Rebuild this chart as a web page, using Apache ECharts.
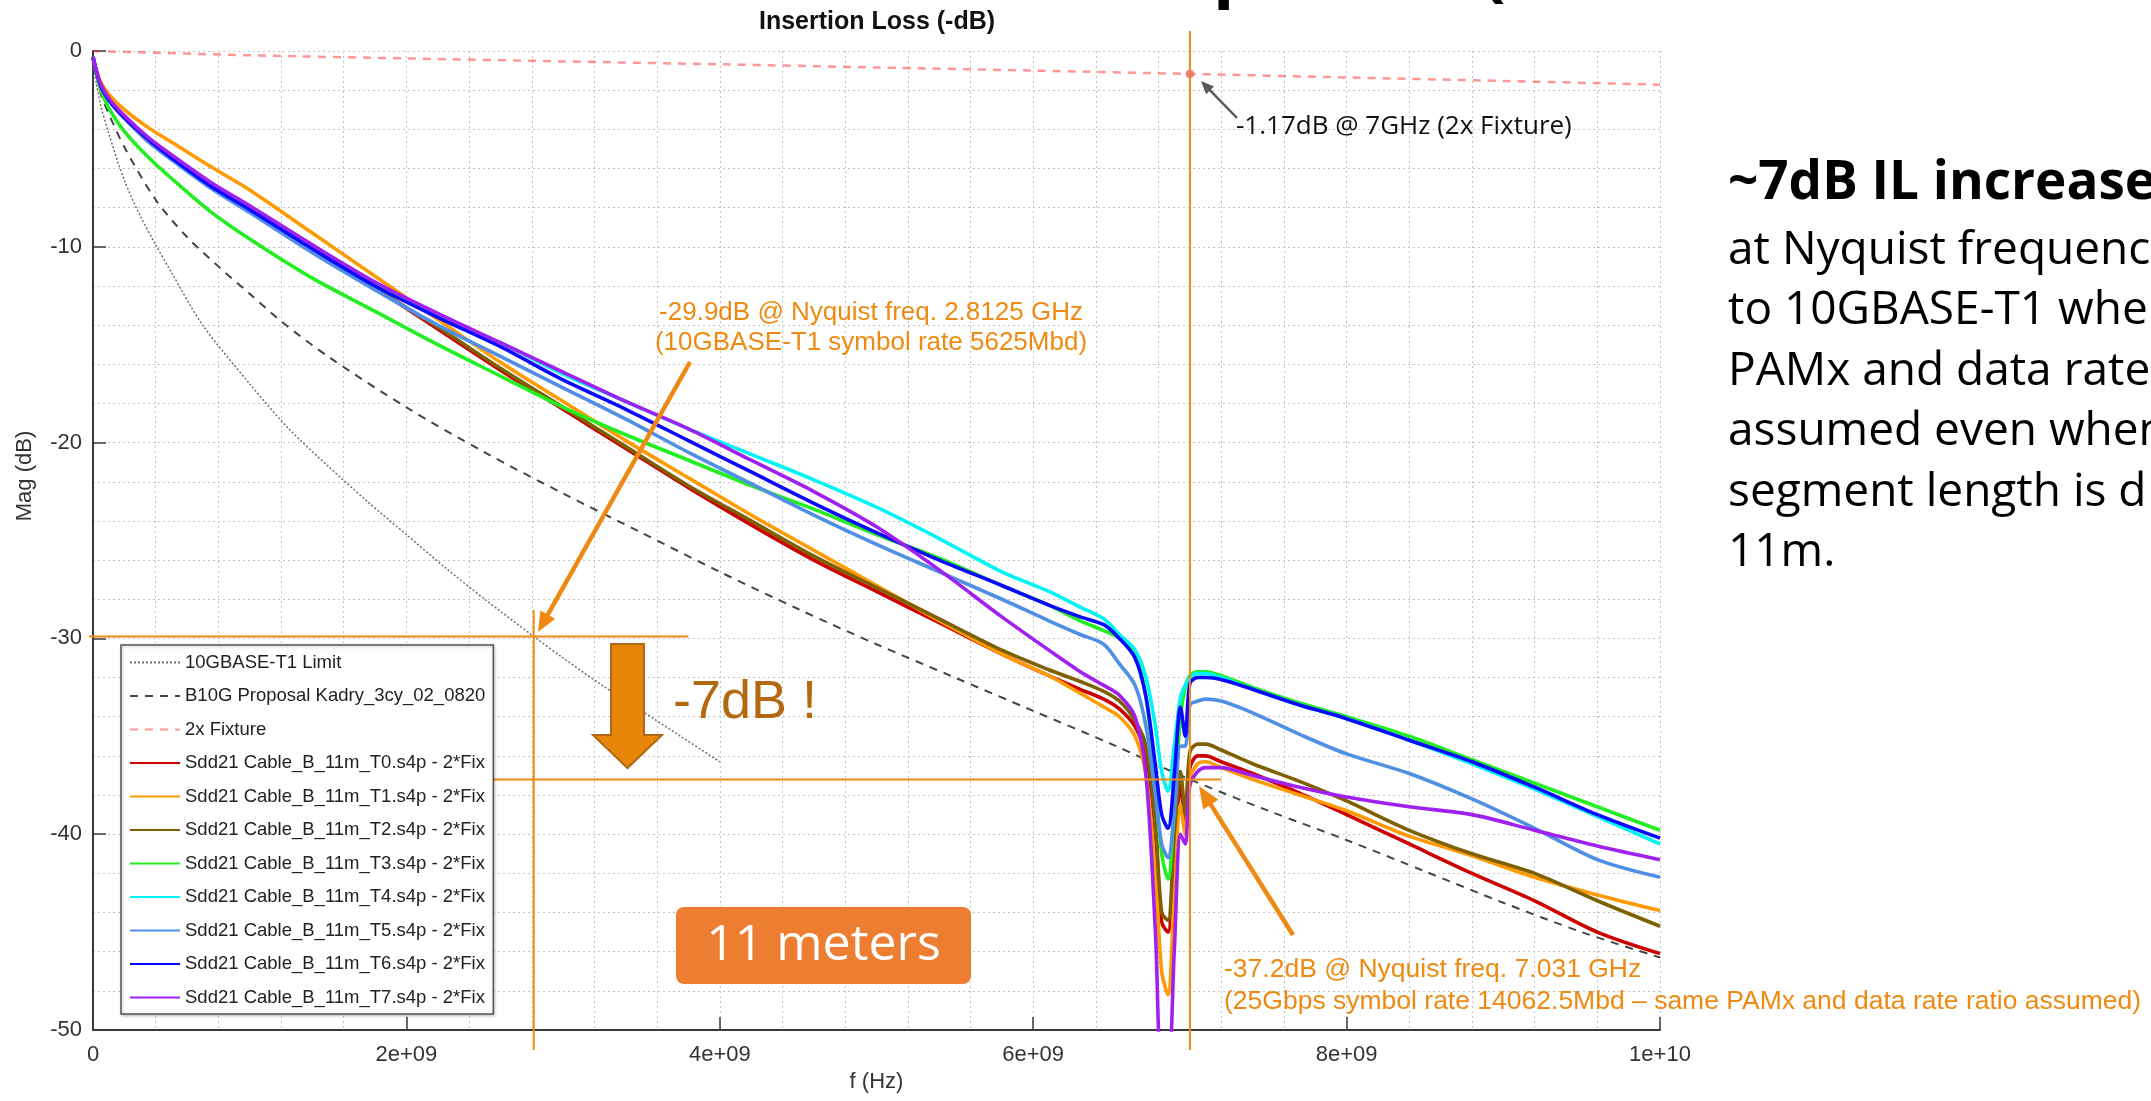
<!DOCTYPE html>
<html>
<head>
<meta charset="utf-8">
<script src="https://cdn.jsdelivr.net/npm/echarts@6/dist/echarts.min.js"></script>
<style>
html,body{margin:0;padding:0;background:#fff;overflow:hidden}
#c{width:2151px;height:1101px}
</style>
</head>
<body>
<div id="c"></div>
<script>
// ---------------- DATA ----------------
const xTicks = [0, 2e9, 4e9, 6e9, 8e9, 1e10];
const xTickLabels = ['0', '2e+09', '4e+09', '6e+09', '8e+09', '1e+10'];
const yTicks = [0, -10, -20, -30, -40, -50];
const yTickLabels = ['0', '-10', '-20', '-30', '-40', '-50'];

const seriesNames = [
  '10GBASE-T1 Limit',
  'B10G Proposal Kadry_3cy_02_0820',
  '2x Fixture',
  'Sdd21 Cable_B_11m_T0.s4p - 2*Fix',
  'Sdd21 Cable_B_11m_T1.s4p - 2*Fix',
  'Sdd21 Cable_B_11m_T2.s4p - 2*Fix',
  'Sdd21 Cable_B_11m_T3.s4p - 2*Fix',
  'Sdd21 Cable_B_11m_T4.s4p - 2*Fix',
  'Sdd21 Cable_B_11m_T5.s4p - 2*Fix',
  'Sdd21 Cable_B_11m_T6.s4p - 2*Fix',
  'Sdd21 Cable_B_11m_T7.s4p - 2*Fix'
];

// 10GBASE-T1 limit (GHz, dB)
const limitGHz = [0, 0.02, 0.05, 0.1, 0.2, 0.3, 0.4, 0.5, 0.7, 1.0, 1.25, 1.5, 1.75, 2.0, 2.25, 2.5, 2.8125, 3.0, 3.25, 3.5, 3.75, 4.0];
const limitDb  = [-0.5, -1.6, -2.8, -4.2, -6.6, -8.4, -9.9, -11.3, -14.0, -17.0, -19.3, -21.2, -23.0, -24.7, -26.4, -28.0, -29.9, -31.0, -32.4, -33.7, -35.0, -36.3];

// B10G proposal
const b10gGHz = [0, 0.05, 0.1, 0.2, 0.4, 0.6, 0.8, 1.0, 1.2, 1.5, 2.0, 2.5, 3.0, 3.5, 4.0, 4.5, 5.0, 5.5, 6.0, 6.5, 7.0, 7.5, 8.0, 8.5, 9.0, 9.5, 10.0];
const b10gDb  = [-0.5, -2.2, -3.2, -4.9, -7.6, -9.5, -11.0, -12.4, -13.8, -15.6, -18.2, -20.5, -22.6, -24.6, -26.6, -28.5, -30.3, -32.0, -33.7, -35.4, -37.2, -38.8, -40.3, -41.9, -43.5, -45.0, -46.3];

// 2x fixture
const fixGHz = [0, 1, 2, 3, 4, 5, 6, 7, 8, 9, 10];
const fixDb  = [0, -0.22, -0.38, -0.53, -0.68, -0.84, -1.0, -1.17, -1.35, -1.53, -1.72];

// cable measurements: common frequency grid (GHz)
const cableGHz = [0, 0.02, 0.05, 0.1, 0.2, 0.35, 0.5, 0.75, 1.0, 1.4, 1.8, 2.2, 2.6, 3.0, 3.4, 3.8, 4.2, 4.6, 5.0, 5.4,
  5.8, 6.1, 6.3, 6.45, 6.55, 6.65, 6.72, 6.78, 6.82, 6.86, 6.9, 6.94, 6.97, 7.0, 7.05, 7.1, 7.2, 7.4, 7.7, 8.0,
  8.4, 8.8, 9.2, 9.6, 10.0];
const T0 = [-0.3, -1.0, -1.8, -2.5, -3.4, -4.5, -5.5, -6.9, -8.1, -10.1,
  -12.1, -14.2, -16.3, -18.3, -20.3, -22.3, -24.2, -26.0, -27.6, -29.2,
  -30.8, -31.9, -32.6, -33.1, -33.6, -34.5, -36.0, -40.0, -44.5, -45.0,
  -41.0, -37.5, -39.5, -36.6, -36.0, -36.0, -36.3, -36.9, -37.9, -39.0,
  -40.5, -42.0, -43.4, -45.0, -46.1];
const T1 = [-0.3, -0.9, -1.6, -2.2, -3.0, -3.9, -4.65, -5.9, -7.1, -9.3,
  -11.5, -13.7, -15.9, -17.9, -19.9, -21.8, -23.7, -25.5, -27.3, -29.1,
  -30.8, -31.9, -32.8, -33.5, -34.0, -35.0, -37.0, -42.0, -47.0, -48.2,
  -43.0, -38.5, -40.0, -37.2, -36.4, -36.3, -36.6, -37.2, -38.0, -38.8,
  -40.1, -41.1, -42.2, -43.1, -43.9];
const T2 = [-0.3, -1.0, -1.8, -2.5, -3.4, -4.6, -5.5, -6.9, -8.1, -10.1,
  -12.1, -14.1, -16.2, -18.2, -20.2, -22.2, -24.0, -25.8, -27.4, -29.0,
  -30.6, -31.6, -32.2, -32.7, -33.2, -34.2, -35.5, -39.5, -44.0, -44.4,
  -40.0, -36.8, -39.0, -35.8, -35.4, -35.4, -35.7, -36.4, -37.3, -38.3,
  -39.8, -41.0, -42.0, -43.4, -44.7];
const T3 = [-0.3, -1.1, -2.0, -2.9, -4.1, -5.4, -6.5, -8.2, -9.6, -11.6,
  -13.3, -15.0, -16.6, -18.2, -19.6, -20.9, -22.2, -23.4, -24.7, -25.9,
  -27.3, -28.3, -29.1, -29.6, -30.0, -30.8, -33.0, -37.5, -41.0, -42.3,
  -38.5, -34.0, -32.5, -31.9, -31.7, -31.7, -31.9, -32.5, -33.3, -34.0,
  -35.0, -36.2, -37.4, -38.6, -39.8];
const T4 = [-0.3, -1.0, -1.8, -2.5, -3.4, -4.5, -5.4, -6.85, -8.05, -10.0,
  -11.9, -13.5, -14.9, -16.5, -17.9, -19.3, -20.6, -21.9, -23.3, -24.9,
  -26.6, -27.6, -28.4, -29.0, -29.8, -30.6, -32.0, -34.5, -36.8, -37.8,
  -35.5, -33.0, -32.4, -32.0, -31.8, -31.8, -32.0, -32.6, -33.4, -34.1,
  -35.2, -36.4, -37.7, -39.1, -40.5];
const T5 = [-0.3, -1.0, -1.8, -2.5, -3.45, -4.6, -5.55, -7.0, -8.25, -10.3,
  -12.2, -14.0, -15.6, -17.2, -18.8, -20.5, -22.1, -23.7, -25.2, -26.6,
  -28.0, -29.1, -29.8, -30.3, -31.3, -32.4, -34.5, -38.0, -40.5, -41.2,
  -39.0, -35.5, -35.5, -33.4, -33.2, -33.1, -33.2, -33.8, -34.9, -35.9,
  -36.9, -38.2, -39.7, -41.3, -42.2];
const T6 = [-0.3, -1.0, -1.8, -2.5, -3.4, -4.5, -5.45, -6.9, -8.1, -10.1,
  -12.0, -13.6, -15.1, -16.8, -18.3, -19.9, -21.5, -23.1, -24.6, -26.0,
  -27.3, -28.3, -28.9, -29.3, -30.0, -31.0, -33.0, -36.5, -39.0, -39.7,
  -37.0, -33.5, -35.0, -32.3, -32.0, -32.0, -32.1, -32.6, -33.4, -34.1,
  -35.2, -36.3, -37.6, -39.0, -40.2];
const T7 = [-0.3, -1.0, -1.7, -2.4, -3.3, -4.4, -5.3, -6.7, -7.9, -9.9,
  -11.8, -13.4, -14.9, -16.4, -17.9, -19.3, -20.9, -22.5, -24.3, -26.5,
  -28.9, -30.6, -31.7, -32.4, -32.9, -34.0, -37.0, -45.0, -52.0, -52.0,
  -46.0, -40.0, -40.5, -37.5, -36.8, -36.6, -36.6, -37.0, -37.6, -38.1,
  -38.6, -39.0, -39.8, -40.6, -41.3];

// annotation values
const nyq1GHz = 2.8125, nyq1Db = -29.9;
const nyq2GHz = 7.0, nyq2Db = -37.2;
const fixMarkGHz = 7.0, fixMarkDb = -1.17;

// ---------------- CHART ----------------
const cableSets = [T0, T1, T2, T3, T4, T5, T6, T7];
const cableColors = ['#cc0000', '#ff9a00', '#7f6000', '#22ee22', '#00f4f4', '#4f8fe6', '#0a0aff', '#a020f0'];
const toPairs = (fs, ds) => fs.map((f, i) => [f * 1e9, ds[i]]);
const FONT = '"Liberation Sans", Arial, sans-serif';
const ORANGE = '#EE8A12';

const series = [
  {name: seriesNames[0], type: 'line', data: toPairs(limitGHz, limitDb), symbol: 'none', showSymbol: false, smooth: 0.3,
   lineStyle: {color: '#6e6e6e', width: 1.5, type: [2, 2]}, itemStyle: {color: '#6e6e6e'}, z: 3},
  {name: seriesNames[1], type: 'line', data: toPairs(b10gGHz, b10gDb), symbol: 'none', showSymbol: false, smooth: 0.3,
   lineStyle: {color: '#444', width: 2, type: [8, 7]}, itemStyle: {color: '#444'}, z: 3},
  {name: seriesNames[2], type: 'line', data: toPairs(fixGHz, fixDb), symbol: 'none', showSymbol: false, smooth: 0.3,
   lineStyle: {color: '#ff3030', width: 2.5, type: [8, 7], opacity: 0.5}, itemStyle: {color: '#ff3030'}, z: 3}
];
cableSets.forEach((arr, i) => {
  series.push({
    name: seriesNames[3 + i], type: 'line', data: toPairs(cableGHz, arr), symbol: 'none', showSymbol: false, smooth: 0.3,
    lineStyle: {color: cableColors[i], width: 3.6}, itemStyle: {color: cableColors[i]}, z: 4
  });
});
series.push({
  name: 'fixtureMarker', type: 'scatter', data: [[fixMarkGHz * 1e9, fixMarkDb]],
  symbolSize: 9, itemStyle: {color: '#e8707a'}, z: 6
});

const gridLine = {show: true, lineStyle: {color: '#c4c4c4', width: 1, type: [2, 3]}};

const option = {
  animation: false,
  backgroundColor: '#ffffff',
  grid: {left: 93, top: 51, width: 1567, height: 979, containLabel: false, outerBoundsMode: 'none'},
  xAxis: {
    type: 'value', min: 0, max: 1e10, interval: 2e9,
    name: 'f (Hz)', nameLocation: 'middle', nameGap: 40,
    nameTextStyle: {fontSize: 22, color: '#333', fontFamily: FONT},
    axisLine: {show: true, onZero: false, lineStyle: {color: '#3a3a3a', width: 2}},
    axisTick: {show: true, inside: true, length: 13, lineStyle: {color: '#3a3a3a', width: 1.5}},
    axisLabel: {fontSize: 22, color: '#333', fontFamily: FONT, margin: 14,
      formatter: v => { const k = xTicks.indexOf(v); return k >= 0 ? xTickLabels[k] : ''; }},
    splitLine: gridLine,
    minorTick: {show: false, splitNumber: 5},
    minorSplitLine: gridLine
  },
  yAxis: {
    type: 'value', min: -50, max: 0, interval: 10,
    axisLine: {show: true, onZero: false, lineStyle: {color: '#3a3a3a', width: 2}},
    axisTick: {show: true, inside: true, length: 13, lineStyle: {color: '#3a3a3a', width: 1.5}},
    axisLabel: {fontSize: 22, color: '#333', fontFamily: FONT, margin: 11,
      formatter: v => { const k = yTicks.indexOf(v); return k >= 0 ? yTickLabels[k] : ''; }},
    splitLine: gridLine,
    minorTick: {show: false, splitNumber: 5},
    minorSplitLine: gridLine
  },
  legend: {
    show: true, orient: 'vertical', left: 121, top: 645,
    padding: [8, 8, 7, 8], itemWidth: 50, itemHeight: 14, itemGap: 14.5,
    backgroundColor: '#ffffff', borderColor: '#555', borderWidth: 1.5,
    shadowColor: 'rgba(0,0,0,0.25)', shadowBlur: 3, shadowOffsetX: 1, shadowOffsetY: 1,
    itemStyle: {opacity: 0, color: 'transparent', borderColor: 'transparent', borderWidth: 0},
    textStyle: {fontSize: 18.5, color: '#222', fontFamily: FONT, lineHeight: 18},
    data: seriesNames, selectedMode: false, z: 60
  },
  series: series
};

const chart = echarts.init(document.getElementById('c'), null, {renderer: 'canvas', width: 2151, height: 1101});
chart.setOption(option);

const P = (ghz, db) => chart.convertToPixel({gridIndex: 0}, [ghz * 1e9, db]);

function arrow(x1, y1, x2, y2, color, w, hl, hw) {
  const dx = x2 - x1, dy = y2 - y1, L = Math.hypot(dx, dy), ux = dx / L, uy = dy / L;
  const bx = x2 - ux * hl, by = y2 - uy * hl, nx = -uy, ny = ux;
  return [
    {type: 'line', z: 50, shape: {x1: x1, y1: y1, x2: bx + ux * 2, y2: by + uy * 2}, style: {stroke: color, lineWidth: w}},
    {type: 'polygon', z: 50, shape: {points: [[x2, y2], [bx + nx * hw / 2, by + ny * hw / 2], [bx - nx * hw / 2, by - ny * hw / 2]]}, style: {fill: color}}
  ];
}
function txt(x, y, s, size, color, opts) {
  opts = opts || {};
  return {type: 'text', x: x, y: y, z: 55, rotation: opts.rot || 0,
    style: {text: s, fill: color, fontSize: size, fontFamily: opts.family || FONT, fontWeight: opts.weight || 'normal',
      textAlign: opts.align || 'left', textVerticalAlign: 'middle'}};
}

const pNyq1 = P(nyq1GHz, nyq1Db);
const pNyq2 = P(nyq2GHz, nyq2Db);
const x38 = P(3.8, 0)[0];
const x72 = P(7.2, 0)[0];
const xBottom = P(0, -50)[1] + 20;
const OS = '"Open Sans", "Noto Sans", sans-serif';

const g = [];
// orange guide lines
g.push({type: 'line', z: 48, shape: {x1: pNyq1[0], y1: 610, x2: pNyq1[0], y2: xBottom}, style: {stroke: ORANGE, lineWidth: 2}});
g.push({type: 'line', z: 48, shape: {x1: 89, y1: pNyq1[1], x2: x38, y2: pNyq1[1]}, style: {stroke: ORANGE, lineWidth: 2}});
g.push({type: 'line', z: 48, shape: {x1: pNyq2[0], y1: 31, x2: pNyq2[0], y2: xBottom}, style: {stroke: ORANGE, lineWidth: 2}});
g.push({type: 'line', z: 48, shape: {x1: 486, y1: pNyq2[1], x2: x72, y2: pNyq2[1]}, style: {stroke: ORANGE, lineWidth: 2}});
// arrows
g.push(...arrow(690, 362, 538, 632, ORANGE, 4.5, 20, 17));
g.push(...arrow(1293, 935, 1199, 786, ORANGE, 4.5, 22, 18));
g.push(...arrow(1237, 118, 1201, 81, '#595959', 2.5, 13, 11));
// big down arrow
g.push({type: 'polygon', z: 50, shape: {points: [[611, 644], [644, 644], [644, 735], [662, 735], [627.5, 768], [593, 735], [611, 735]]},
  style: {fill: '#E8860A', stroke: '#B06A12', lineWidth: 2}});
// 11 meters box
g.push({type: 'rect', z: 50, shape: {x: 676, y: 907, width: 295, height: 77, r: 8}, style: {fill: '#ED7D31'}});
g.push(txt(823.5, 945.5, '11 meters', 50, '#ffffff', {align: 'center', family: OS}));
// texts
g.push(txt(877, 22, 'Insertion Loss (-dB)', 25, '#111', {align: 'center', weight: 'bold'}));
g.push(txt(25, 476, 'Mag (dB)', 22, '#333', {align: 'center', rot: Math.PI / 2}));
g.push(txt(871, 313, '-29.9dB @ Nyquist freq. 2.8125 GHz', 26, ORANGE, {align: 'center'}));
g.push(txt(871, 343, '(10GBASE-T1 symbol rate 5625Mbd)', 26, ORANGE, {align: 'center'}));
g.push(txt(673, 703, '-7dB !', 54, '#B5690F'));
g.push(txt(1224, 970, '-37.2dB @ Nyquist freq. 7.031 GHz', 26.5, ORANGE));
g.push(txt(1224, 1002, '(25Gbps symbol rate 14062.5Mbd \u2013 same PAMx and data rate ratio assumed)', 26.5, ORANGE));
g.push(txt(1236, 127, '-1.17dB @ 7GHz (2x Fixture)', 26, '#111', {family: OS}));
// right-hand explanation
g.push(txt(1728, 184, '~7dB IL increase', 53, '#000', {family: OS, weight: 'bold'}));
const bodyLines = ['at Nyquist frequenc', 'to 10GBASE-T1 whe', 'PAMx and data rate', 'assumed even when', 'segment length is d', '11m.'];
const bodyY = [251, 311, 372, 432, 493, 553];
bodyLines.forEach((s, i) => g.push(txt(1728, bodyY[i], s, 46, '#000', {family: OS})));
// cut-off slide title fragments at the very top
g.push(txt(1213, -27, 'p', 70, '#000', {family: OS, weight: 'bold'}));
g.push(txt(1482, -27, '(', 70, '#000', {family: OS, weight: 'bold'}));

chart.setOption({graphic: g});
</script>
</body>
</html>
